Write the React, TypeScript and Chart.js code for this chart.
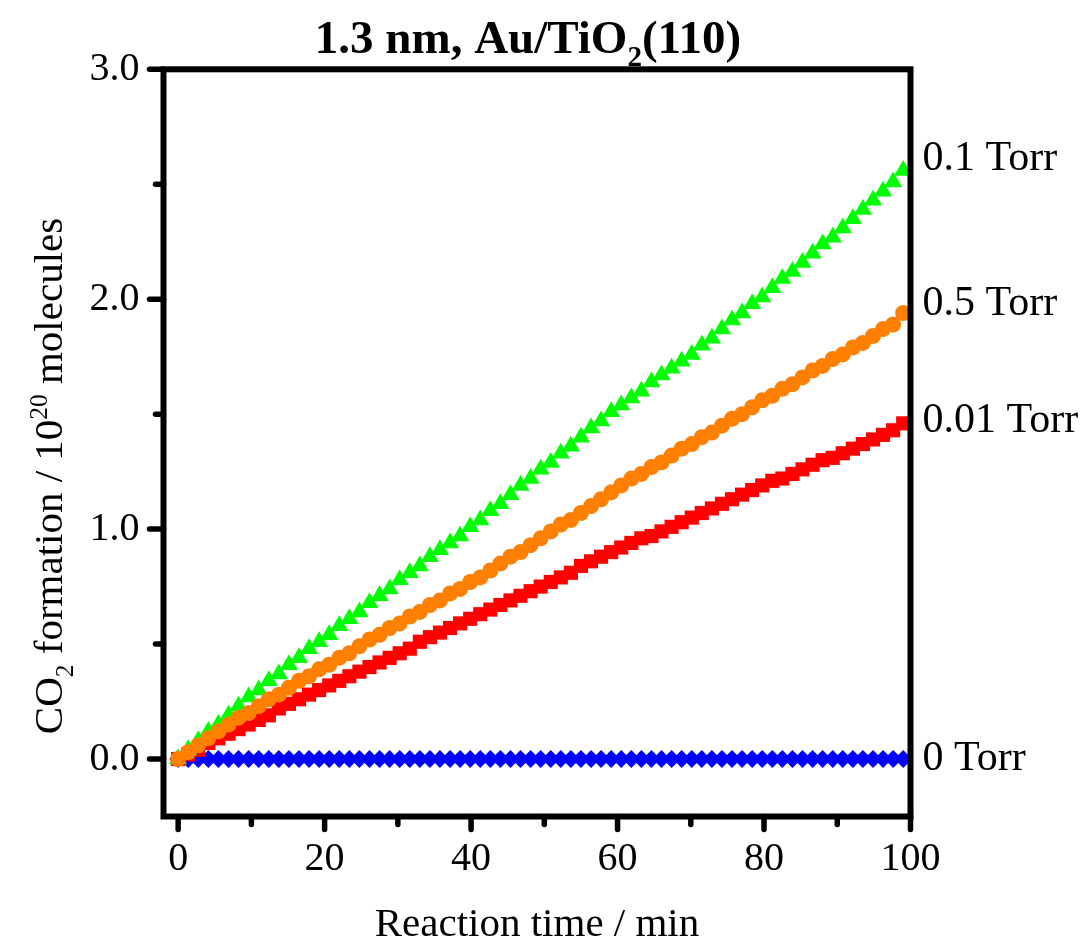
import React, { useEffect, useRef } from 'react';
import { Chart, registerables } from 'chart.js';

Chart.register(...registerables);

// ---------- data ----------
// reaction time (min)
const times = [
  0, 1.38, 2.75, 4.13, 5.5, 6.88, 8.25, 9.63,
  11, 12.38, 13.75, 15.13, 16.5, 17.88, 19.25, 20.63,
  22, 23.38, 24.75, 26.13, 27.5, 28.88, 30.25, 31.63,
  33, 34.38, 35.75, 37.13, 38.5, 39.88, 41.25, 42.63,
  44, 45.38, 46.75, 48.13, 49.5, 50.88, 52.25, 53.63,
  55, 56.38, 57.75, 59.13, 60.5, 61.88, 63.25, 64.63,
  66, 67.38, 68.75, 70.13, 71.5, 72.88, 74.25, 75.63,
  77, 78.38, 79.75, 81.13, 82.5, 83.88, 85.25, 86.63,
  88, 89.38, 90.75, 92.13, 93.5, 94.88, 96.25, 97.63,
  99,
];

// 0.1 Torr (green triangles)
const torr01 = [
  0.00, 0.04, 0.08, 0.12, 0.15, 0.19, 0.23, 0.27,
  0.30, 0.34, 0.37, 0.41, 0.44, 0.48, 0.51, 0.54,
  0.58, 0.61, 0.64, 0.68, 0.71, 0.74, 0.78, 0.81,
  0.84, 0.88, 0.91, 0.94, 0.97, 1.01, 1.04, 1.08,
  1.11, 1.15, 1.19, 1.22, 1.26, 1.29, 1.33, 1.36,
  1.40, 1.44, 1.47, 1.51, 1.54, 1.57, 1.60, 1.64,
  1.67, 1.70, 1.73, 1.76, 1.80, 1.83, 1.87, 1.91,
  1.94, 1.98, 2.01, 2.05, 2.09, 2.12, 2.16, 2.20,
  2.24, 2.27, 2.31, 2.35, 2.39, 2.43, 2.47, 2.51,
  2.56,
];

// 0.5 Torr (orange circles)
const torr05 = [
  0.00, 0.03, 0.06, 0.09, 0.12, 0.15, 0.18, 0.20,
  0.23, 0.26, 0.28, 0.31, 0.34, 0.36, 0.39, 0.41,
  0.44, 0.46, 0.49, 0.52, 0.54, 0.57, 0.59, 0.62,
  0.64, 0.67, 0.69, 0.72, 0.74, 0.77, 0.79, 0.82,
  0.85, 0.88, 0.90, 0.93, 0.96, 0.99, 1.02, 1.04,
  1.07, 1.10, 1.13, 1.16, 1.19, 1.22, 1.24, 1.27,
  1.29, 1.32, 1.35, 1.37, 1.40, 1.42, 1.45, 1.48,
  1.50, 1.53, 1.56, 1.58, 1.61, 1.63, 1.66, 1.69,
  1.71, 1.74, 1.76, 1.79, 1.81, 1.84, 1.87, 1.89,
  1.94,
];

// 0.01 Torr (red squares)
const torr001 = [
  0.00, 0.02, 0.04, 0.07, 0.09, 0.11, 0.13, 0.15,
  0.17, 0.19, 0.22, 0.24, 0.26, 0.28, 0.30, 0.32,
  0.34, 0.36, 0.38, 0.40, 0.42, 0.44, 0.46, 0.48,
  0.51, 0.53, 0.55, 0.57, 0.59, 0.61, 0.63, 0.65,
  0.67, 0.69, 0.71, 0.73, 0.75, 0.77, 0.79, 0.81,
  0.84, 0.86, 0.88, 0.90, 0.92, 0.94, 0.96, 0.97,
  0.99, 1.01, 1.03, 1.05, 1.07, 1.09, 1.11, 1.13,
  1.15, 1.17, 1.19, 1.21, 1.22, 1.24, 1.26, 1.28,
  1.30, 1.31, 1.33, 1.35, 1.37, 1.39, 1.41, 1.43,
  1.46,
];

// 0 Torr (blue diamonds)
const torr0 = [
  0.00, 0.00, 0.00, 0.00, 0.00, 0.00, 0.00, 0.00,
  0.00, 0.00, 0.00, 0.00, 0.00, 0.00, 0.00, 0.00,
  0.00, 0.00, 0.00, 0.00, 0.00, 0.00, 0.00, 0.00,
  0.00, 0.00, 0.00, 0.00, 0.00, 0.00, 0.00, 0.00,
  0.00, 0.00, 0.00, 0.00, 0.00, 0.00, 0.00, 0.00,
  0.00, 0.00, 0.00, 0.00, 0.00, 0.00, 0.00, 0.00,
  0.00, 0.00, 0.00, 0.00, 0.00, 0.00, 0.00, 0.00,
  0.00, 0.00, 0.00, 0.00, 0.00, 0.00, 0.00, 0.00,
  0.00, 0.00, 0.00, 0.00, 0.00, 0.00, 0.00, 0.00,
  0.00,
];

const xMajorTicks = [0, 20, 40, 60, 80, 100];
const xMinorTicks = [10, 30, 50, 70, 90];
const yMajorTicks = [0, 1, 2, 3];
const yMinorTicks = [0.5, 1.5, 2.5];

const seriesLabels = ['0.1 Torr', '0.5 Torr', '0.01 Torr', '0 Torr'];
const seriesLabelValues = [2.61, 1.98, 1.47, 0.0];

// ---------- styling ----------
const FONT = '"Liberation Serif", "Times New Roman", Times, serif';

const toPoints = (ys: number[]) => times.map((t, i) => ({ x: t, y: ys[i] }));

// draw a run of text pieces (normal / sub / sup), returns total width
type Piece = { t: string; k?: 'sub' | 'sup' };
function drawPieces(ctx: CanvasRenderingContext2D, pieces: Piece[], size: number, weight: string, startX: number, baseY: number, measureOnly = false) {
  let x = startX;
  for (const p of pieces) {
    const s = p.k ? size * 0.62 : size;
    ctx.font = `${weight} ${s}px ${FONT}`;
    const dy = p.k === 'sub' ? size * 0.28 : p.k === 'sup' ? -size * 0.36 : 0;
    if (!measureOnly) ctx.fillText(p.t, x, baseY + dy);
    x += ctx.measureText(p.t).width;
  }
  return x - startX;
}

const decorPlugin = {
  id: 'decor',
  afterDatasetsDraw(chart: any) {
    const { ctx, chartArea } = chart;
    const { left, right, top, bottom } = chartArea;
    const xs = chart.scales.x;
    const ys = chart.scales.y;
    ctx.save();
    ctx.strokeStyle = '#000';
    ctx.fillStyle = '#000';

    // tick marks
    ctx.lineWidth = 5.5;
    ctx.lineCap = 'round';
    const tick = (x1: number, y1: number, x2: number, y2: number) => {
      ctx.beginPath();
      ctx.moveTo(x1, y1);
      ctx.lineTo(x2, y2);
      ctx.stroke();
    };
    xMajorTicks.forEach((v) => { const px = xs.getPixelForValue(v); tick(px, bottom, px, bottom + 13); });
    xMinorTicks.forEach((v) => { const px = xs.getPixelForValue(v); tick(px, bottom, px, bottom + 8); });
    yMajorTicks.forEach((v) => { const py = ys.getPixelForValue(v); tick(left, py, left - 14, py); });
    yMinorTicks.forEach((v) => { const py = ys.getPixelForValue(v); tick(left, py, left - 8, py); });

    // frame
    ctx.lineCap = 'square';
    ctx.lineJoin = 'miter';
    ctx.lineWidth = 6;
    ctx.strokeRect(left, top, right - left, bottom - top);

    // right-side series labels
    ctx.textAlign = 'left';
    ctx.textBaseline = 'middle';
    ctx.font = `42px ${FONT}`;
    seriesLabels.forEach((s, i) => {
      ctx.fillText(s, right + 12, ys.getPixelForValue(seriesLabelValues[i]));
    });

    // title
    ctx.textBaseline = 'alphabetic';
    const titlePieces: Piece[] = [{ t: '1.3 nm, Au/TiO' }, { t: '2', k: 'sub' }, { t: '(110)' }];
    const tw = drawPieces(ctx, titlePieces, 47, 'bold', 0, 0, true);
    drawPieces(ctx, titlePieces, 47, 'bold', 528 - tw / 2, 53);

    // x axis title
    ctx.font = `41px ${FONT}`;
    ctx.textAlign = 'center';
    ctx.fillText('Reaction time / min', (left + right) / 2, 936);

    // y axis title (rotated)
    ctx.textAlign = 'left';
    const yPieces: Piece[] = [
      { t: 'CO' }, { t: '2', k: 'sub' }, { t: ' formation / 10' }, { t: '20', k: 'sup' }, { t: ' molecules' },
    ];
    const yw = drawPieces(ctx, yPieces, 41, 'normal', 0, 0, true);
    ctx.translate(62, 476);
    ctx.rotate(-Math.PI / 2);
    drawPieces(ctx, yPieces, 41, 'normal', -yw / 2, 0);
    ctx.restore();
  },
};

export default function App() {
  const canvasRef = useRef<HTMLCanvasElement | null>(null);

  useEffect(() => {
    const prevMargin = document.body.style.margin;
    document.body.style.margin = '0';
    const canvas = canvasRef.current;
    if (!canvas) return;
    const chart = new Chart(canvas, {
      type: 'scatter',
      data: {
        datasets: [
          {
            label: '0.5 Torr',
            data: toPoints(torr05),
            pointStyle: 'circle',
            pointRadius: 8,
            pointBackgroundColor: '#FF8000',
            pointBorderColor: '#FF8000',
            pointBorderWidth: 0,
            showLine: false,
          },
          {
            label: '0.1 Torr',
            data: toPoints(torr01),
            pointStyle: 'triangle',
            pointRadius: 10.5,
            pointBackgroundColor: '#00FF00',
            pointBorderColor: '#00FF00',
            pointBorderWidth: 0,
            showLine: false,
          },
          {
            label: '0.01 Torr',
            data: toPoints(torr001),
            pointStyle: 'rect',
            pointRadius: 10,
            pointBackgroundColor: '#FF0000',
            pointBorderColor: '#FF0000',
            pointBorderWidth: 0,
            showLine: false,
          },
          {
            label: '0 Torr',
            data: toPoints(torr0),
            pointStyle: 'rectRot',
            pointRadius: 9,
            pointBackgroundColor: '#0000FF',
            pointBorderColor: '#0000FF',
            pointBorderWidth: 0,
            showLine: false,
          },
        ],
      },
      options: {
        responsive: false,
        animation: false,
        devicePixelRatio: 1,
        clip: false as any,
        layout: { padding: { top: 69.3, right: 175.5, left: 0, bottom: 0 } },
        plugins: {
          legend: { display: false },
          tooltip: { enabled: false },
          title: { display: false },
        },
        scales: {
          x: {
            type: 'linear',
            min: -2.0,
            max: 100,
            grid: { display: false, drawTicks: false },
            border: { display: false },
            afterBuildTicks: (s: any) => { s.ticks = xMajorTicks.map((v) => ({ value: v })); },
            afterFit: (s: any) => { s.height = 943 - 816.5; },
            ticks: {
              autoSkip: false,
              maxRotation: 0,
              padding: 19,
              color: '#000',
              font: { family: FONT, size: 40 },
              callback: (v: any) => String(v),
            },
          },
          y: {
            type: 'linear',
            min: -0.25,
            max: 3.0,
            grid: { display: false, drawTicks: false },
            border: { display: false },
            afterBuildTicks: (s: any) => { s.ticks = yMajorTicks.map((v) => ({ value: v })); },
            afterFit: (s: any) => { s.width = 163.5; },
            ticks: {
              autoSkip: false,
              padding: 24,
              color: '#000',
              font: { family: FONT, size: 40 },
              callback: (v: any) => Number(v).toFixed(1),
            },
          },
        },
      },
      plugins: [decorPlugin],
    });
    return () => {
      chart.destroy();
      document.body.style.margin = prevMargin;
    };
  }, []);

  return (
    <div style={{ position: 'absolute', left: 0, top: 0, width: 1086, height: 943, background: '#fff' }}>
      <canvas ref={canvasRef} width={1086} height={943} style={{ width: 1086, height: 943, display: 'block' }} />
    </div>
  );
}
